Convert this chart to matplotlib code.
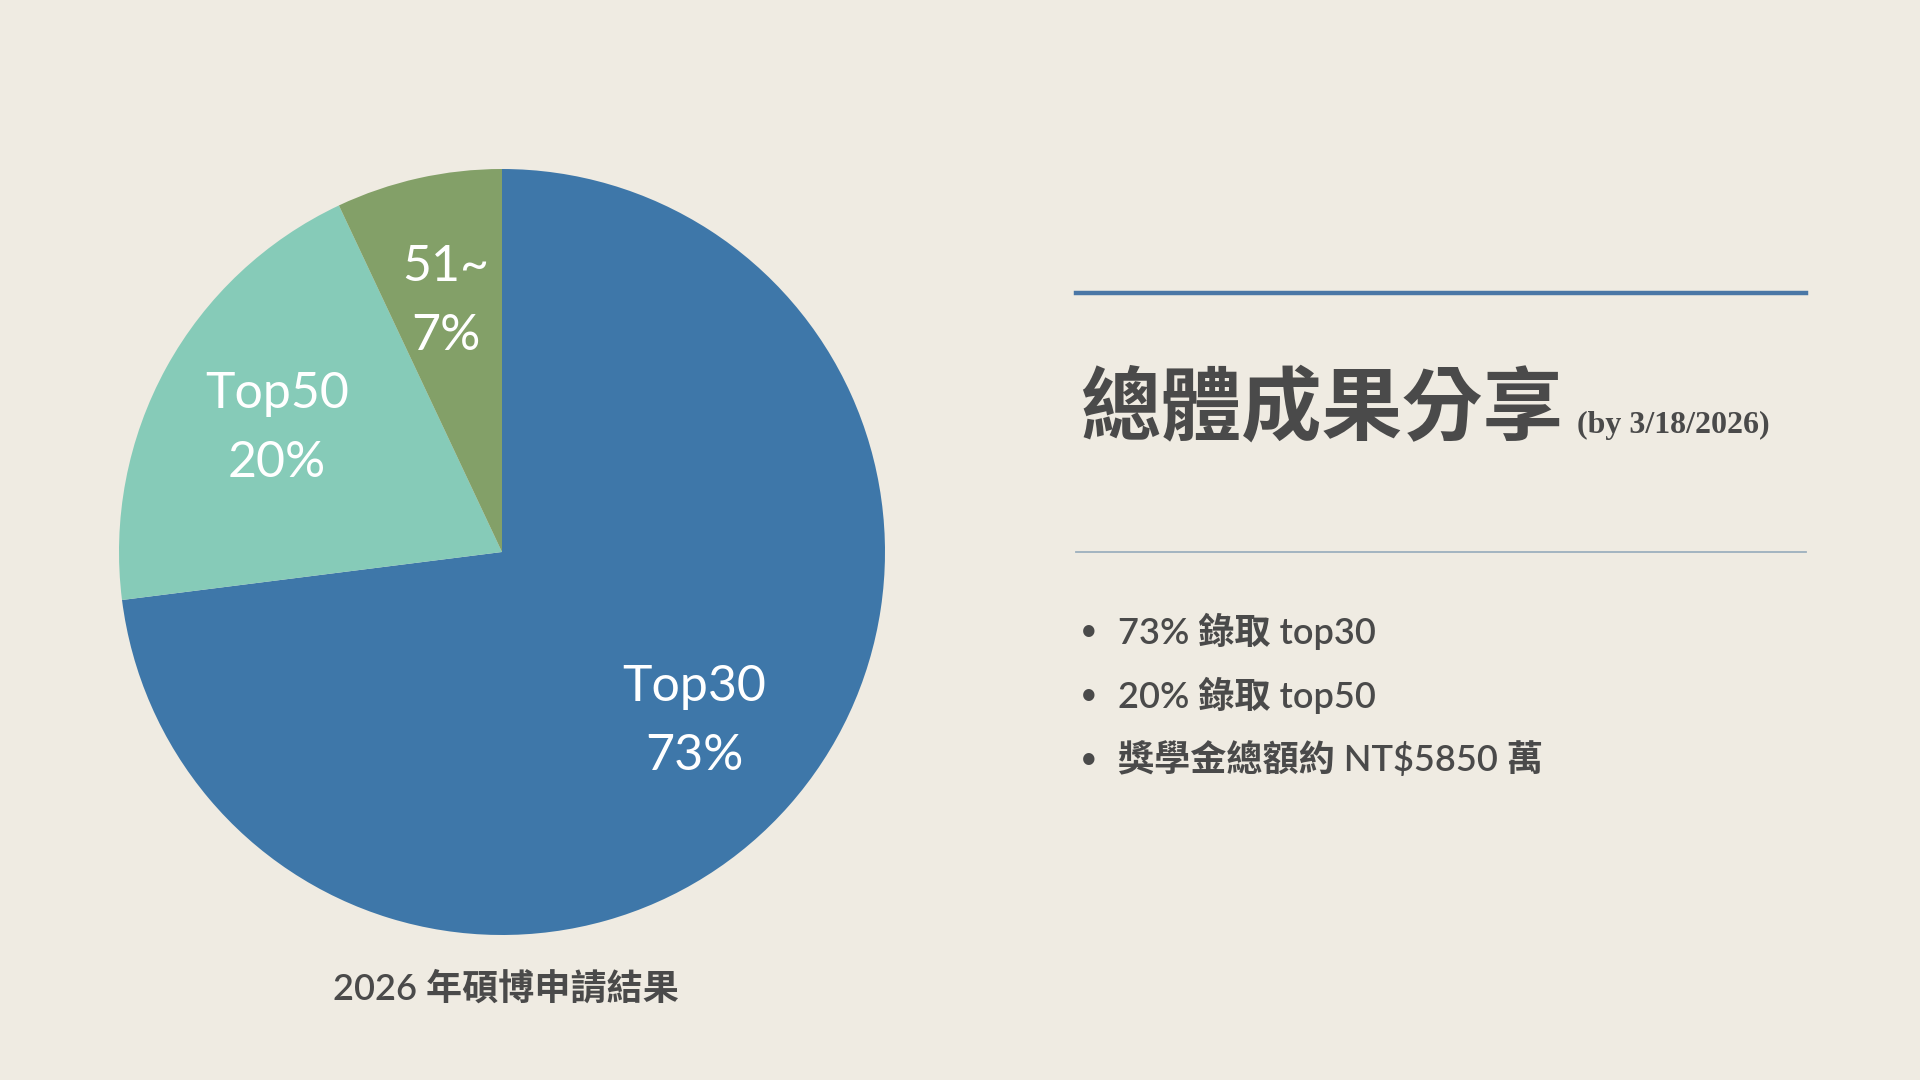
import numpy as np
import matplotlib.pyplot as plt
from matplotlib.lines import Line2D

# chart data
categories = ['Top30', 'Top50', '51~']
shares = [73, 20, 7]
colors = ['#3E77A9', '#86CBB8', '#83A068']

caption = '2026 年碩博申請結果'
title = '總體成果分享'
title_note = '(by 3/18/2026)'
bullets = ['73% 錄取 top30', '20% 錄取 top50', '獎學金總額約 NT$5850 萬']

bg = '#EFEBE2'
text_color = '#4A4A4A'
fonts = ['Lato', 'Noto Sans CJK TC', 'DejaVu Sans']

W, H = 1920, 1080
fig = plt.figure(figsize=(19.2, 10.8), dpi=100, facecolor=bg)

# pie placed by pixel centre / radius
cx, cy, r = 502, 552, 383
ax = fig.add_axes([(cx - r) / W, (H - cy - r) / H, 2 * r / W, 2 * r / H])
ax.set_facecolor(bg)
wedges, _ = ax.pie(shares, colors=colors, startangle=90, counterclock=False,
                   radius=1, wedgeprops=dict(linewidth=0))
ax.set_xlim(-1, 1)
ax.set_ylim(-1, 1)
ax.set_aspect('equal')
ax.axis('off')

for w, name, val in zip(wedges, categories, shares):
    theta = np.deg2rad((w.theta1 + w.theta2) / 2)
    ax.text(0.67 * np.cos(theta), 0.67 * np.sin(theta), f'{name}\n{val}%',
            ha='center', va='center', color='white', fontsize=36,
            family=fonts, linespacing=1.62)

fig.text(506 / W, 1 - 988 / H, caption, ha='center', va='center',
         fontsize=26, color=text_color, family=fonts, fontweight='semibold')

# right-hand panel
fig.add_artist(Line2D([1076 / W, 1806 / W], [1 - 293 / H, 1 - 293 / H],
                      color='#4A77A6', linewidth=3.2))
fig.add_artist(Line2D([1076 / W, 1806 / W], [1 - 552 / H, 1 - 552 / H],
                      color='#9DB0BE', linewidth=1.3))

t = fig.text(1080 / W, 1 - 410 / H, title, ha='left', va='center',
             fontsize=58, color=text_color, family=['Noto Sans CJK TC'],
             fontweight='bold')
fig.canvas.draw()
bb = t.get_window_extent()
fig.text((bb.x1 + 14) / W, 1 - 425 / H, title_note, ha='left', va='center',
         fontsize=23, color=text_color, family=['Liberation Serif'],
         fontweight='bold')

for i, line in enumerate(bullets):
    y = 1 - (631 + 64 * i) / H
    fig.text(1089 / W, y, '•', ha='center', va='center', fontsize=22,
             color=text_color, family=fonts)
    fig.text(1118 / W, y, line, ha='left', va='center', fontsize=26,
             color=text_color, family=fonts, fontweight='semibold')

fig.savefig('out.png', dpi=100, facecolor=bg)
